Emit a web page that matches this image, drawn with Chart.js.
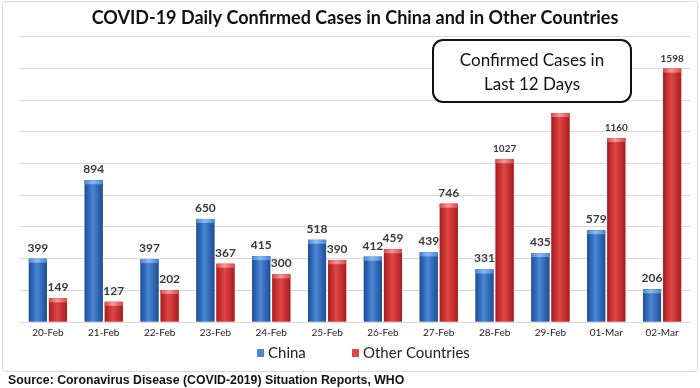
<!DOCTYPE html>
<html>
<head>
<meta charset="utf-8">
<script src="https://cdn.jsdelivr.net/npm/chart.js@4.4.1/dist/chart.umd.min.js"></script>
<style>
  html, body { margin: 0; padding: 0; background: #fff; }
  #wrap { width: 700px; height: 388px; position: relative; }
</style>
</head>
<body>
<div id="wrap"><canvas id="covidChart" width="700" height="388"></canvas></div>
<script>
// ====== DATA ======
const dates = ["20-Feb", "21-Feb", "22-Feb", "23-Feb", "24-Feb", "25-Feb", "26-Feb", "27-Feb", "28-Feb", "29-Feb", "01-Mar", "02-Mar"];
const chinaCases = [399, 894, 397, 650, 415, 518, 412, 439, 331, 435, 579, 206];
const otherCases = [149, 127, 202, 367, 300, 390, 459, 746, 1027, 1318, 1160, 1598];
const seriesNames = ["China", "Other Countries"];
const yMax = 1800;
const yStep = 200;

const titleText = "COVID-19 Daily Confirmed Cases in China and in Other Countries";
const boxLines = ["Confirmed Cases in", "Last 12 Days"];
const sourceText = "Source: Coronavirus Disease (COVID-2019) Situation Reports, WHO";

// colours: [edge, centre, cap]
const shades = [
  ["#1d4c94", "#4887d6", "#8dbbef"],
  ["#a81c1c", "#e04646", "#f29a9a"]
];

const FONT = "Lato, 'Open Sans', sans-serif";
const BOX = { x: 433, y: 40, w: 198, h: 62 };

// ====== PLUGINS ======
// cylinder-ish shading over each bar, using the bar elements laid out by Chart.js
const barShade = {
  id: "barShade",
  afterDatasetsDraw(chart) {
    const ctx = chart.ctx;
    chart.data.datasets.forEach((ds, di) => {
      const meta = chart.getDatasetMeta(di);
      const [edge, mid, cap] = shades[di];
      meta.data.forEach(bar => {
        const { x, y, base, width } = bar.getProps(["x", "y", "base", "width"], true);
        const l = x - width / 2, r = x + width / 2;
        const g = ctx.createLinearGradient(l, 0, r, 0);
        g.addColorStop(0, edge);
        g.addColorStop(0.45, mid);
        g.addColorStop(1, edge);
        ctx.save();
        ctx.fillStyle = g;
        ctx.fillRect(l, y, width, base - y);
        // light cap on top
        const g2 = ctx.createLinearGradient(l, 0, r, 0);
        g2.addColorStop(0, mid);
        g2.addColorStop(0.45, cap);
        g2.addColorStop(1, mid);
        ctx.fillStyle = g2;
        ctx.fillRect(l, y, width, Math.min(4, base - y));
        ctx.restore();
      });
    });
  }
};

// value labels above the bars (those that run into the callout box are hidden, as in the original)
const valueLabels = {
  id: "valueLabels",
  afterDatasetsDraw(chart) {
    const ctx = chart.ctx;
    ctx.save();
    ctx.fillStyle = "#3a3a3a";
    ctx.textAlign = "center";
    ctx.textBaseline = "middle";
    chart.data.datasets.forEach((ds, di) => {
      const meta = chart.getDatasetMeta(di);
      meta.data.forEach((bar, i) => {
        const v = ds.data[i];
        const big = v >= 1000;
        const ly = bar.y - (big ? 10 : 11);
        if (bar.x > BOX.x && bar.x < BOX.x + BOX.w && ly < BOX.y + BOX.h + 10) return;
        ctx.font = `bold ${big ? 10 : 12}px ${FONT}`;
        ctx.fillText(String(v), bar.x, ly);
      });
    });
    ctx.restore();
  }
};

// frame, callout box, legend and source line
const decorations = {
  id: "decorations",
  afterDraw(chart) {
    const ctx = chart.ctx;
    ctx.save();

    // outer frame
    ctx.strokeStyle = "#d9d9d9";
    ctx.lineWidth = 1;
    ctx.beginPath();
    ctx.roundRect(2.5, 1.5, 695, 370, 3);
    ctx.stroke();

    // callout box
    ctx.beginPath();
    ctx.roundRect(BOX.x, BOX.y, BOX.w, BOX.h, 10);
    ctx.fillStyle = "#fff";
    ctx.fill();
    ctx.lineWidth = 2;
    ctx.strokeStyle = "#111";
    ctx.stroke();
    ctx.fillStyle = "#111";
    ctx.font = `17px ${FONT}`;
    ctx.textAlign = "center";
    ctx.textBaseline = "middle";
    ctx.fillText(boxLines[0], 532, 61);
    ctx.fillText(boxLines[1], 532, 85);

    // legend
    ctx.font = `15px ${FONT}`;
    ctx.textAlign = "left";
    const legY = 353;
    const legX = [257, 352];
    chart.data.datasets.forEach((ds, di) => {
      ctx.fillStyle = shades[di][1];
      ctx.fillRect(legX[di], legY - 4, 7, 8);
      ctx.fillStyle = "#222";
      ctx.fillText(ds.label, legX[di] + 11, legY);
    });

    // source
    ctx.font = "bold 12.3px 'Liberation Sans', Arial, sans-serif";
    ctx.fillStyle = "#111";
    ctx.fillText(sourceText, 8, 381);
    ctx.restore();
  }
};

// ====== CHART ======
new Chart(document.getElementById("covidChart"), {
  type: "bar",
  data: {
    labels: dates,
    datasets: [
      { label: seriesNames[0], data: chinaCases, backgroundColor: shades[0][1] },
      { label: seriesNames[1], data: otherCases, backgroundColor: shades[1][1] }
    ]
  },
  options: {
    responsive: false,
    animation: false,
    devicePixelRatio: 1,
    categoryPercentage: 0.72,
    barPercentage: 0.9,
    layout: { padding: { left: 20, right: 10, top: 0, bottom: 44 } },
    plugins: {
      legend: { display: false },
      tooltip: { enabled: false },
      title: {
        display: true,
        text: titleText,
        color: "#111",
        font: { family: FONT, size: 18, weight: "bold" },
        padding: { top: 7, bottom: 8 }
      }
    },
    scales: {
      x: {
        grid: { display: false, drawTicks: false },
        border: { display: false },
        ticks: { color: "#222", font: { family: FONT, size: 10 }, padding: 5, maxRotation: 0 }
      },
      y: {
        min: 0,
        max: yMax,
        ticks: { display: false, stepSize: yStep, padding: 0 },
        grid: { color: "#d9d9d9", drawTicks: false },
        border: { display: false }
      }
    }
  },
  plugins: [barShade, valueLabels, decorations]
});
</script>
</body>
</html>
